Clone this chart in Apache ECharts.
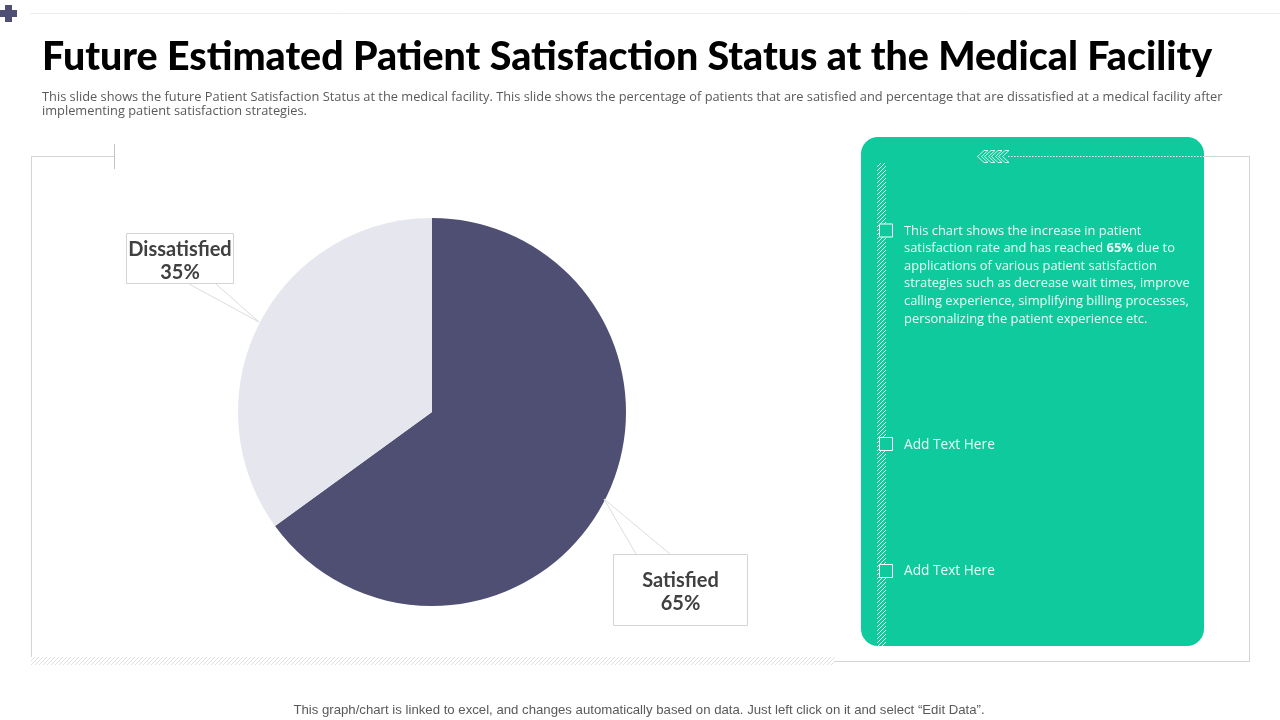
<!DOCTYPE html>
<html><head><meta charset="utf-8">
<style>html,body{margin:0;padding:0;background:#fff}#c{width:1280px;height:720px}</style>
<script src="https://cdn.jsdelivr.net/npm/echarts@6/dist/echarts.min.js"></script>
</head><body><div id="c"></div>
<script>
const categories = ['Satisfied', 'Dissatisfied'];
const seriesValues = [65, 35];
const sliceColors = ['#4F4F73', '#E6E6EE'];
const titleText = 'Future Estimated Patient Satisfaction Status at the Medical Facility';
const subtitleLines = [
  'This slide shows the future Patient Satisfaction Status at the medical facility. This slide shows the percentage of patients that are satisfied and percentage that are dissatisfied at a medical facility after',
  'implementing patient satisfaction strategies.'
];
const panelLines = [
  'This chart shows the increase in patient',
  'satisfaction rate and has reached {b|65%} due to',
  'applications of various patient satisfaction',
  'strategies such as decrease wait times, improve',
  'calling experience, simplifying billing processes,',
  'personalizing the patient experience etc.'
];
const addText = 'Add Text Here';
const footerText = 'This graph/chart is linked to excel, and changes automatically based on data. Just left click on it and select \u201CEdit Data\u201D.';

function hatch(fg, bg, s) {
  const c = document.createElement('canvas');
  c.width = s; c.height = s;
  const x = c.getContext('2d');
  x.fillStyle = bg; x.fillRect(0, 0, s, s);
  x.strokeStyle = fg; x.lineWidth = 1;
  x.beginPath();
  x.moveTo(-1, s + 1); x.lineTo(s + 1, -1);
  x.moveTo(-1, 1); x.lineTo(1, -1);
  x.moveTo(s - 1, s + 1); x.lineTo(s + 1, s - 1);
  x.stroke();
  return { image: c, repeat: 'repeat' };
}
const border = '#D4D4D4';
const line = (x1, y1, x2, y2, stroke, w, dash, z) => ({ type: 'line', z: z || 5, shape: { x1, y1, x2, y2 }, style: { stroke: stroke || border, lineWidth: w || 1, lineDash: dash } });
const text = (x, y, t, font, fill, extra) => ({ type: 'text', z: 20, x, y, style: Object.assign({ text: t, font, fill }, extra || {}) });
const bodyFont = '12.9px "Open Sans"';
const labelBoxes = { Satisfied: { x: 613.5, y: 554.5, w: 134, h: 71, dy: 2 }, Dissatisfied: { x: 126.5, y: 233.5, w: 107, h: 50, dy: 3 } };
const graphics = [
  line(30, 13.5, 1280, 13.5, '#EDEDED'),
  { type: 'rect', z: 5, shape: { x: 5, y: 5, width: 7, height: 17 }, style: { fill: '#4F4F73' } },
  { type: 'rect', z: 5, shape: { x: 0, y: 10, width: 17, height: 7 }, style: { fill: '#4F4F73' } },
  // frame
  line(31.5, 156.5, 114, 156.5), line(31.5, 156, 31.5, 662), line(114.5, 144, 114.5, 169, '#C4C4C4'),
  line(834, 661.5, 1249.5, 661.5), line(1249.5, 156, 1249.5, 662), line(1200, 156.5, 1250, 156.5),
  { type: 'rect', z: 5, shape: { x: 31, y: 657, width: 804, height: 8 }, style: { fill: hatch('#E0E0E0', '#FFFFFF', 4) } },
  // green panel
  { type: 'rect', z: 6, shape: { x: 861, y: 137, width: 343, height: 509, r: 17 }, style: { fill: '#0FCA9C' } },
  { type: 'rect', z: 7, shape: { x: 877, y: 163, width: 9, height: 483 }, style: { fill: hatch('#F2FCF9', '#0FCA9C', 4) } },
  line(1008, 156.5, 1204, 156.5, '#FFFFFF', 1, [1.5, 1.5], 8),
  ...[0, 1, 2, 3].map(i => ({ type: 'polyline', z: 8, shape: { points: [[984 + i * 7, 150.5], [977.5 + i * 7, 156.5], [984 + i * 7, 162.5], [988 + i * 7, 162.5], [981.5 + i * 7, 156.5], [988 + i * 7, 150.5], [984 + i * 7, 150.5]] }, style: { stroke: '#FFFFFF', lineWidth: 0.8, fill: 'none' } })),
  ...[230.5, 444, 571].map(y => ({ type: 'rect', z: 9, shape: { x: 879.5, y: y - 6.5, width: 13, height: 13 }, style: { fill: '#0FCA9C', stroke: '#FFFFFF', lineWidth: 1 } })),
  ...panelLines.map((t, i) => ({ type: 'text', z: 20, x: 904, y: 231 + i * 17.6, style: { text: t, font: bodyFont, fill: '#EAFBF6', verticalAlign: 'middle', rich: { b: { font: 'bold 12.9px "Open Sans"', fill: '#EAFBF6' } } } })),
  text(904, 445, addText, '13.7px "Open Sans"', '#EAFBF6', { verticalAlign: 'middle' }),
  text(904, 571, addText, '13.7px "Open Sans"', '#EAFBF6', { verticalAlign: 'middle' }),
  // subtitle + footer
  ...subtitleLines.map((t, i) => text(42, 97 + i * 14, t, '12.82px "Open Sans"', '#5A5A5A', { verticalAlign: 'middle' })),
  text(639, 710, footerText, '13.2px "Liberation Sans"', '#595959', { align: 'center', verticalAlign: 'middle' }),
  // callouts and label boxes
  ...categories.map(n => { const b = labelBoxes[n]; return { type: 'rect', z: 4, shape: { x: b.x, y: b.y, width: b.w, height: b.h }, style: { fill: '#FFFFFF', stroke: border, lineWidth: 1 } }; }),
  { type: 'polyline', z: 15, shape: { points: [[189, 284], [259, 322], [216, 284]] }, style: { stroke: '#DDDDDD', lineWidth: 1, fill: 'none' } },
  { type: 'polyline', z: 15, shape: { points: [[636, 554], [604, 499], [670, 554]] }, style: { stroke: '#DDDDDD', lineWidth: 1, fill: 'none' } }
];
const pieData = categories.map((name, i) => ({ name, value: seriesValues[i], itemStyle: { color: sliceColors[i] } }));
const chart = echarts.init(document.getElementById('c'), null, { renderer: 'canvas', width: 1280, height: 720 });
chart.setOption({
  animation: false,
  backgroundColor: '#FFFFFF',
  title: { text: titleText, left: 37, top: 33, textStyle: { fontFamily: 'Lato', fontWeight: 900, fontSize: 39.3, color: '#000000' } },
  graphic: graphics,
  series: [{
    type: 'pie', center: [432, 412], radius: [0, 194], startAngle: 90, clockwise: true,
    silent: true, data: pieData, z: 10,
    labelLine: { show: false },
    label: {
      show: true, position: 'outside', formatter: '{b}\n{c}%',
      fontFamily: 'Lato', fontWeight: 'bold', fontSize: 20, lineHeight: 23, color: '#404040',
      align: 'center', verticalAlign: 'middle'
    },
    labelLayout: p => {
      const b = labelBoxes[categories[p.dataIndex]];
      return { x: b.x + b.w / 2, y: b.y + b.h / 2 + b.dy, align: 'center', verticalAlign: 'middle', hideOverlap: false };
    }
  }]
});
</script></body></html>
